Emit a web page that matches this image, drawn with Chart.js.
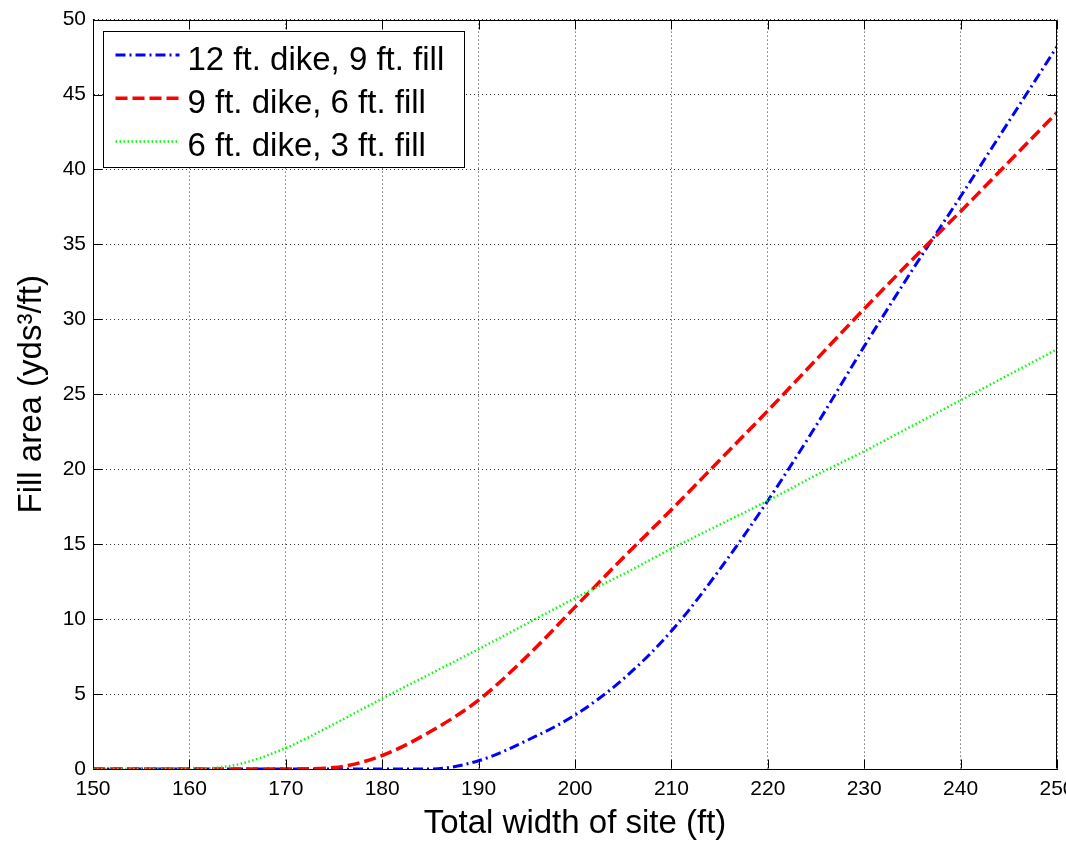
<!DOCTYPE html>
<html>
<head>
<meta charset="utf-8">
<title>Fill area vs total width of site</title>
<script src="https://cdn.jsdelivr.net/npm/chart.js@4.4.1/dist/chart.umd.min.js"></script>
<style>
  html, body { margin: 0; padding: 0; background: #fff; overflow: hidden; }
  /* a little wider than the window so the last x label gets cut like in the original */
  #wrap { width: 1090px; height: 841px; position: relative; }
</style>
</head>
<body>
<div id="wrap"><canvas id="fillChart"></canvas></div>
<script>
// total width of site (ft) where the curves were read
const widths = [150, 155, 160, 165, 170, 175, 180, 185, 190, 195, 200,
                205, 210, 215, 220, 225, 230, 235, 240, 245, 250];

// fill area (yds^3/ft)
const dike12 = [0, 0, 0, 0, 0, 0, 0, 0, 0.55, 1.9, 3.6,
                6.0, 9.2, 13.3, 17.9, 22.9, 28.2, 33.3, 38.2, 43.2, 48.2];
const dike9  = [0, 0, 0, 0, 0, 0.1, 0.9, 2.5, 4.6, 7.5, 10.8,
                14.1, 17.3, 20.6, 23.9, 27.3, 30.7, 34.0, 37.2, 40.5, 43.8];
const dike6  = [0, 0, 0, 0.3, 1.4, 3.0, 4.7, 6.35, 8.0, 9.7, 11.4,
                13.0, 14.7, 16.3, 17.9, 19.6, 21.2, 22.9, 24.6, 26.3, 28.0];

const seriesNames = ['12 ft. dike, 9 ft. fill', '9 ft. dike, 6 ft. fill', '6 ft. dike, 3 ft. fill'];

const xTicks = [150, 160, 170, 180, 190, 200, 210, 220, 230, 240, 250];
const yTicks = [0, 5, 10, 15, 20, 25, 30, 35, 40, 45, 50];

const xTitle = 'Total width of site (ft)';
const yTitle = 'Fill area (yds\u00B3/ft)';

const FONT = "'Liberation Sans', Arial, sans-serif";

// box on top/right, inward tick marks and the boxed legend (matlab look)
const matlabFrame = {
    id: 'matlabFrame',
    afterDraw(chart) {
        const ctx = chart.ctx;
        const a = chart.chartArea;
        const sx = chart.scales.x;
        const sy = chart.scales.y;
        const L = Math.round(a.left) + 0.5, R = Math.round(a.right) - 0.5;
        const T = Math.round(a.top) + 0.5, B = Math.round(a.bottom) - 0.5;
        const tick = 9;

        ctx.save();
        ctx.setLineDash([]);
        ctx.strokeStyle = '#000';
        ctx.lineWidth = 1;
        ctx.beginPath();
        ctx.moveTo(L, T); ctx.lineTo(R, T); ctx.lineTo(R, B);
        xTicks.forEach(v => {
            const px = Math.round(sx.getPixelForValue(v)) + 0.5;
            ctx.moveTo(px, B); ctx.lineTo(px, B - tick);
            ctx.moveTo(px, T); ctx.lineTo(px, T + tick);
        });
        yTicks.forEach(v => {
            const py = Math.round(sy.getPixelForValue(v)) + 0.5;
            ctx.moveTo(L, py); ctx.lineTo(L + tick, py);
            ctx.moveTo(R, py); ctx.lineTo(R - tick, py);
        });
        ctx.stroke();

        // legend box
        const bx = Math.round(a.left) + 10.5, by = Math.round(a.top) + 11.5;
        const bw = 361, bh = 136;
        ctx.fillStyle = '#fff';
        ctx.fillRect(bx, by, bw, bh);
        ctx.strokeRect(bx, by, bw, bh);

        ctx.font = '33px ' + FONT;
        ctx.textAlign = 'left';
        ctx.textBaseline = 'alphabetic';
        chart.data.datasets.forEach((ds, i) => {
            const ly = by + 23.5 + i * 43.3;
            ctx.save();
            ctx.strokeStyle = ds.borderColor;
            ctx.lineWidth = ds.borderWidth;
            ctx.setLineDash(ds.borderDash);
            ctx.beginPath();
            ctx.moveTo(bx + 12, ly);
            ctx.lineTo(bx + 76, ly);
            ctx.stroke();
            ctx.restore();
            ctx.fillStyle = '#000';
            ctx.fillText(ds.label, bx + 84, ly + 14.5);
        });
        ctx.restore();
    }
};

const ctx = document.getElementById('fillChart').getContext('2d');

const fillChart = new Chart(ctx, {
    type: 'line',
    data: {
        labels: widths,
        datasets: [{
            label: seriesNames[0],
            data: dike12,
            borderColor: '#0000ff',
            borderWidth: 3,
            borderDash: [10, 4, 2, 4],
            order: 3
        }, {
            label: seriesNames[1],
            data: dike9,
            borderColor: '#ff0000',
            borderWidth: 3.5,
            borderDash: [12, 5],
            order: 2
        }, {
            label: seriesNames[2],
            data: dike6,
            borderColor: '#00ff00',
            borderWidth: 2.5,
            borderDash: [1.5, 2.5],
            order: 1
        }]
    },
    options: {
        responsive: true,
        maintainAspectRatio: false,
        animation: false,
        layout: { padding: { left: 0, top: 19, right: 33, bottom: 0 } },
        elements: {
            point: { radius: 0, hoverRadius: 0 },
            line: { cubicInterpolationMode: 'monotone', fill: false, borderCapStyle: 'butt' }
        },
        plugins: {
            legend: { display: false },
            tooltip: { enabled: false }
        },
        scales: {
            x: {
                type: 'linear',
                min: xTicks[0],
                max: xTicks[xTicks.length - 1],
                afterBuildTicks: s => { s.ticks = xTicks.map(v => ({ value: v })); },
                afterFit: s => { s.height = 72; },
                grid: { color: 'rgba(0, 0, 0, 0.8)', lineWidth: 1, drawTicks: false },
                border: { display: true, color: '#000', width: 1, dash: [1, 3] },
                ticks: {
                    padding: 8,
                    color: '#000',
                    maxRotation: 0,
                    autoSkip: false,
                    font: { family: FONT, size: 21 }
                },
                title: {
                    display: true,
                    text: xTitle,
                    color: '#000',
                    font: { family: FONT, size: 33, lineHeight: 1 },
                    padding: { top: 0, bottom: 1 }
                }
            },
            y: {
                min: yTicks[0],
                max: yTicks[yTicks.length - 1],
                afterBuildTicks: s => { s.ticks = yTicks.map(v => ({ value: v })); },
                afterFit: s => { s.width = 93; },
                grid: { color: 'rgba(0, 0, 0, 0.8)', lineWidth: 1, drawTicks: false },
                border: { display: true, color: '#000', width: 1, dash: [1, 3] },
                ticks: {
                    padding: 7,
                    color: '#000',
                    font: { family: FONT, size: 21 }
                },
                title: {
                    display: true,
                    text: yTitle,
                    color: '#000',
                    font: { family: FONT, size: 33, lineHeight: 1 },
                    padding: { top: 15, bottom: 0 }
                }
            }
        }
    },
    plugins: [matlabFrame]
});
</script>
</body>
</html>
